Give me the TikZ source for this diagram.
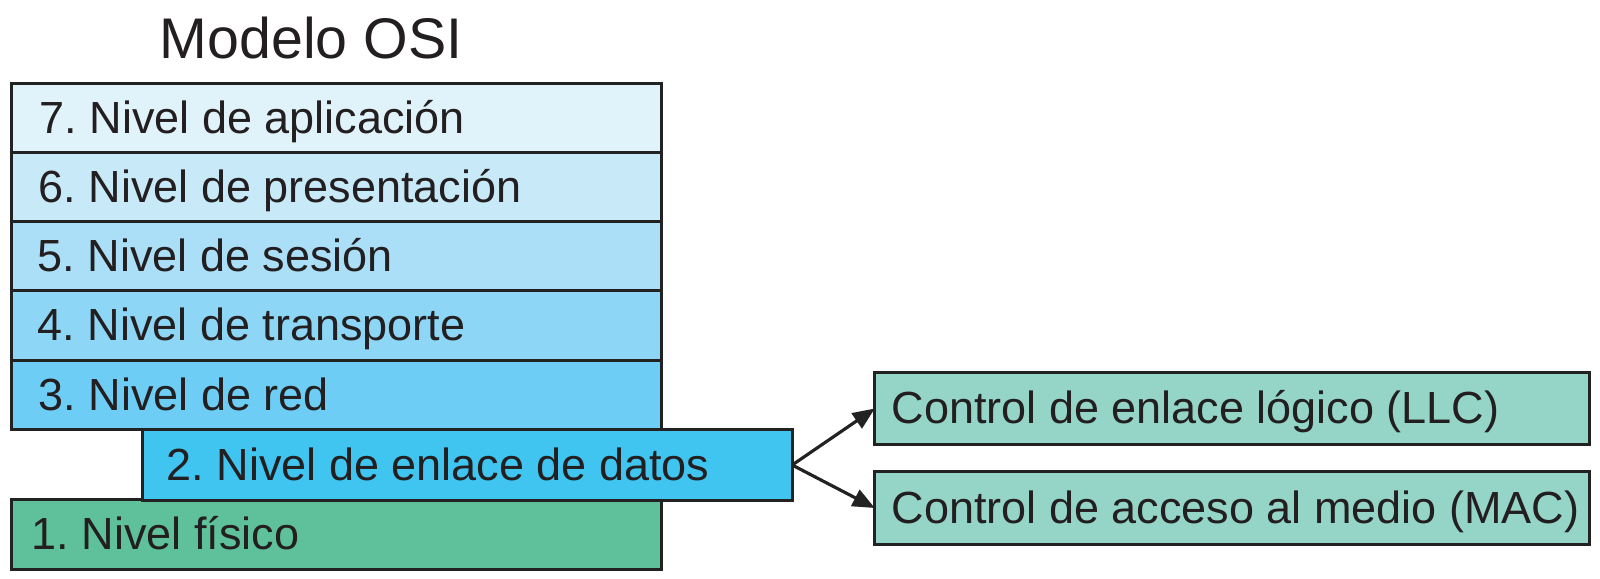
\documentclass[tikz,border=0pt]{standalone}
\usepackage{fontspec}
\setmainfont{Liberation Sans}
\usetikzlibrary{arrows.meta,calc}
\definecolor{txt}{HTML}{231F20}
\definecolor{edge}{HTML}{222222}
\definecolor{c7}{HTML}{E1F3FA}
\definecolor{c6}{HTML}{C7E9F8}
\definecolor{c5}{HTML}{AADFF7}
\definecolor{c4}{HTML}{8DD6F5}
\definecolor{c3}{HTML}{6DCDF4}
\definecolor{c2}{HTML}{40C4F0}
\definecolor{c1}{HTML}{5FC19B}
\definecolor{cs}{HTML}{94D5C8}
\frenchspacing
\begin{document}
\begin{tikzpicture}[x=0.01cm,y=-0.01cm,
  layer/.style={draw=edge,line width=0.85pt,inner sep=0pt,outer sep=0pt,minimum width=6.49cm,minimum height=0.69cm},
  sub/.style={draw=edge,line width=0.85pt,inner sep=0pt,outer sep=0pt,minimum width=7.14cm,minimum height=0.72cm},
  lbl/.style={anchor=base west,inner sep=0pt,text=txt,font=\fontsize{12.8}{15}\selectfont},
  arr/.style={draw=edge,line width=0.9pt,-{Triangle[length=0.22cm,width=0.18cm]}}]
\useasboundingbox (0,0) rectangle (1600,579);
\node[anchor=base,inner sep=0pt,text=txt,font=\fontsize{16.3}{19}\selectfont] (title) at (311,59) {Modelo OSI};
\node[layer,fill=c7] (l7) at (336.5,118.5) {};
\node[layer,fill=c6] (l6) at (336.5,187.5) {};
\node[layer,fill=c5] (l5) at (336.5,256.5) {};
\node[layer,fill=c4] (l4) at (336.5,325.5) {};
\node[layer,fill=c3] (l3) at (336.5,395) {};
\node[layer,fill=c1] (l1) at (336.5,534.5) {};
\node[layer,fill=c2,minimum height=0.70cm] (l2) at (467.5,465) {};
\node[sub,fill=cs] (llc) at (1232,408.5) {};
\node[sub,fill=cs] (mac) at (1232,508) {};
\node[lbl] (t7) at ($(l7.west)+(27,15)$) {7. Nivel de aplicación};
\node[lbl] (t6) at ($(l6.west)+(26,15)$) {6. Nivel de presentación};
\node[lbl] (t5) at ($(l5.west)+(25,15)$) {5. Nivel de sesión};
\node[lbl] (t4) at ($(l4.west)+(25,15)$) {4. Nivel de transporte};
\node[lbl] (t3) at ($(l3.west)+(26,15)$) {3. Nivel de red};
\node[lbl] (t2) at ($(l2.west)+(23,15)$) {2. Nivel de enlace de datos};
\node[lbl] (t1) at ($(l1.west)+(19,15)$) {1. Nivel físico};
\node[lbl] (tllc) at ($(llc.west)+(16,15)$) {Control de enlace lógico (LLC)};
\node[lbl] (tmac) at ($(mac.west)+(16,15)$) {Control de acceso al medio (MAC)};
\draw[arr] (l2.east) -- (llc.west);
\draw[arr] (l2.east) -- (mac.west);
\end{tikzpicture}
\end{document}
